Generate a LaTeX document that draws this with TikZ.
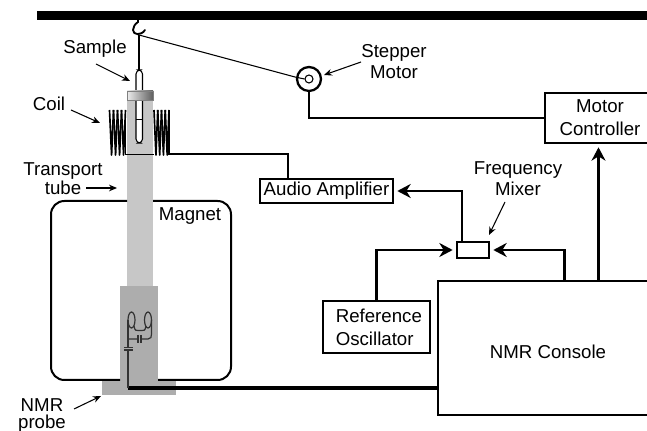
\documentclass[tikz,border=0pt]{standalone}
\usepackage{fontspec}
\setmainfont{Liberation Sans}
\usetikzlibrary{arrows.meta,calc}
\definecolor{tubeg}{gray}{0.78}
\definecolor{probeg}{gray}{0.68}
\tikzset{
 px/.style={x=0.75pt,y=-0.75pt},
 lab/.style={font=\fontsize{14pt}{15.75pt}\selectfont,align=center,inner sep=0pt},
 labtight/.style={font=\fontsize{14pt}{12.5pt}\selectfont,align=center,inner sep=0pt},
 boxn/.style={draw,line width=1.5pt,fill=white,inner sep=0pt,align=center,font=\fontsize{14pt}{17.25pt}\selectfont},
 wire/.style={line width=1.5pt},
 sig/.style={line width=1.7pt,shorten >=2.5pt,-{Stealth[length=10pt,width=10.5pt]}},
 note/.style={line width=0.8pt,-{Stealth[length=6pt,width=5pt]}},
 circ/.style={line width=0.9pt,draw=black!80},
}
\begin{document}
\begin{tikzpicture}[px]
\useasboundingbox (0,0) rectangle (647,431);
\clip (0,0) rectangle (647,431);
% ceiling
\fill (37,11) rectangle (647,20);
% tube and probe
\fill[tubeg] (127,100) rectangle (153,286);
\fill[probeg] (102,380) rectangle (176,395);
\fill[probeg] (120,286) rectangle (158,395);
% magnet
\draw[line width=1.5pt,rounded corners=10pt] (120,380) -- (51,380) -- (51,201) -- (127,201);
\draw[line width=1.5pt,rounded corners=10pt] (153,201) -- (231,201) -- (231,380) -- (158,380);
% sample
\node[inner sep=0pt,minimum size=0pt] (hook) at (139,35) {};
\draw[line width=1.4pt,line cap=round] (138,20) -- (138,22) .. controls (135,24) and (133,27) .. (133,30) .. controls (133,35) and (141,36) .. (145,30);
\coordinate (tubetop) at (139,70);
\draw[line width=1.6pt] (hook) -- (tubetop);
\draw[line width=0.8pt,fill=white,rounded corners=3pt] (136,143) -- (136,70) -- (142.5,70) -- (142.5,143) -- cycle;
\draw[line width=0.6pt] (136,119) -- (142.5,119);
\shade[left color=gray!15,right color=gray!75!black] (127,91) rectangle (153,100);
\draw[line width=0.5pt,gray] (127,91) rectangle (153,100);
% coil
\foreach \xs/\w in {109.5/16,154/15}{
 \foreach \t in {0,1,2,3}{
  \draw[line width=1.25pt,line join=round]
   ($(\xs,110)+(0.25*\t*\w,0)$) -- ($(\xs,155)+(0.25*\t*\w+0.13*\w,0)$) -- ($(\xs,110)+(0.25*\t*\w+0.25*\w,0)$);
 }
 \draw[line width=1.2pt] ($(\xs,110)+(\w,0)$) -- ($(\xs,155)+(\w,0)$);
}
\draw[line width=1.2pt] (125.5,154.5) -- (154,154.5);
% nodes
\node[boxn,minimum width=133*0.75pt,minimum height=24*0.75pt] (amp) at (326.5,191) {Audio Amplifier};
\node[boxn,minimum width=110*0.75pt,minimum height=50*0.75pt] (ctrl) at (600,118) {Motor\\Controller};
\node[boxn,minimum width=107*0.75pt,minimum height=52*0.75pt,align=left] (ref) at (376.5,327) {\hspace*{3.5pt}Reference\\\hspace*{3.5pt}Oscillator};
\node[boxn,minimum width=221*0.75pt,minimum height=134*0.75pt] (console) at (548,348) {\rule{0pt}{16pt}NMR Console};
\node[boxn,minimum width=32*0.75pt,minimum height=16*0.75pt] (mix) at (473,250) {};
\node[draw,circle,line width=1.7pt,fill=white,minimum size=24*0.75pt,inner sep=0pt] (motor) at (309,79) {};
\node[draw,circle,line width=0.8pt,fill=white,minimum size=8*0.75pt,inner sep=0pt] (shaft) at (309,79) {};
\coordinate (coilend) at (169,154);
\coordinate (coaxin) at (128,388);
% cable
\draw[line width=0.8pt] (hook.center) -- (295,77) -- (shaft.west);
% wires
\draw[wire] (motor.south) |- (ctrl.west);
\draw[wire] (coilend) -| ($(amp.north west)+(29,0)$);
\draw[sig] ($(console.north west)+(162,0)$) -- (ctrl.south -| {$(console.north west)+(162,0)$});
\draw[sig] ($(console.north west)+(128,0)$) |- (mix.east);
\draw[sig] (ref.north) |- (mix.west);
\draw[sig] ($(mix.north west)+(6,0)$) |- (amp.east);
\draw[line width=2.4pt] (coaxin) -- (console.west |- coaxin);
% probe circuit
\draw[circ] (128,388) -- (128,350) (128,347.5) -- (128,320);
\draw[circ] (124,350) -- (133,350) (124,347.5) -- (133,347.5);
\draw[circ] (128,339) -- (138,339) (141,339) -- (148,339) .. controls (151,339) and (151.5,337) .. (151.5,334) -- (151.5,320);
\draw[circ] (138,335) -- (138,343) (141,335) -- (141,343);
\draw[circ] (131.5,320) ellipse [x radius=3.5,y radius=8];
\draw[circ] (148,320) ellipse [x radius=3.5,y radius=8];
\draw[circ] (134,326) .. controls (135,331) and (136,330.5) .. (138,330.5) -- (142,330.5) .. controls (144,330.5) and (145,331) .. (146,326);
% labels
\node[lab] (lsample) at (95,49) {Sample};
\node[lab] (lcoil) at (49,104) {Coil};
\node[labtight] (ltube) at (63,179) {Transport\\tube};
\node[lab] (lmagnet) at (190,216) {Magnet};
\node[lab] (lstep) at (394,61.5) {Stepper\\Motor};
\node[lab] (lfreq) at (518,178.5) {Frequency\\Mixer};
\node[labtight] (lnmr) at (42,415.5) {NMR\\probe};
% pointers
\coordinate (psample) at (130,81);
\coordinate (pcoil) at (100,123);
\coordinate (ptube) at (117,188);
\coordinate (pmotor) at (324,75);
\coordinate (pmix) at (489,235);
\coordinate (pprobe) at (101,396);
\draw[note] (96,64) -- (psample);
\draw[note] (71,110) -- (pcoil);
\draw[note] (86,188) -- (ptube);
\draw[note] (361,62) -- (pmotor);
\draw[note] (505,202) -- (pmix);
\draw[note] (74,409) -- (pprobe);
\end{tikzpicture}
\end{document}
